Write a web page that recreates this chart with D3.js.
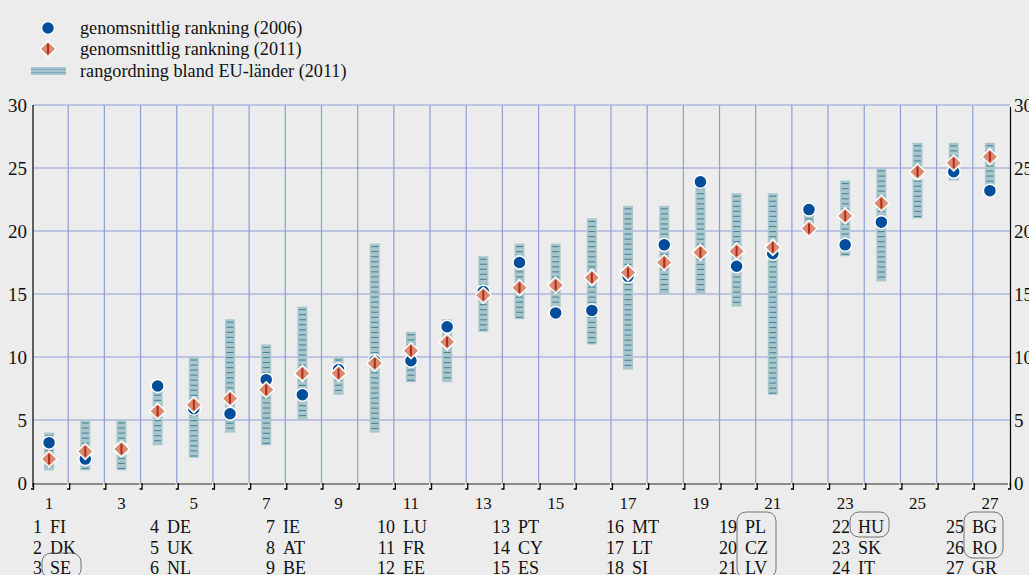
<!DOCTYPE html>
<html lang="sv">
<head>
    <meta charset="UTF-8">
    <title>Rankning</title>
    <script src="https://d3js.org/d3.v7.min.js"></script>
    <style>
        body, html {
            margin: 0px;
            background: #ececec;
        }
        svg text {
            fill: #111;
            font-family: "Liberation Serif", "DejaVu Serif", serif;
        }
    </style>
</head>
<body>
    <div id="chart"></div>
    <script>
        // ranks 1..27 and the country on each rank
        const ranks = d3.range(1, 28)
        const codes = ["FI", "DK", "SE", "DE", "UK", "NL", "IE", "AT", "BE", "LU", "FR", "EE", "PT", "CY",
            "ES", "MT", "LT", "SI", "PL", "CZ", "LV", "HU", "SK", "IT", "BG", "RO", "GR"]
        const avg2006 = [3.2, 1.9, 2.7, 7.7, 5.9, 5.5, 8.2, 7.0, 9.0, 9.7, 9.7, 12.4, 15.2, 17.5, 13.5,
            13.7, 16.4, 18.9, 23.9, 17.2, 18.2, 21.7, 18.9, 20.7, 24.6, 24.7, 23.2]
        const avg2011 = [1.9, 2.5, 2.7, 5.7, 6.2, 6.7, 7.4, 8.7, 8.7, 9.5, 10.5, 11.2, 14.9, 15.5, 15.7,
            16.3, 16.7, 17.5, 18.3, 18.4, 18.7, 20.2, 21.2, 22.2, 24.7, 25.4, 25.9]
        const rankLow = [1, 1, 1, 3, 2, 4, 3, 5, 7, 4, 8, 8, 12, 13, 13, 11, 9, 15, 15, 14, 7, 20, 18, 16, 21, 24, 23]
        const rankHigh = [4, 5, 5, 8, 10, 13, 11, 14, 10, 19, 12, 13, 18, 19, 19, 21, 22, 22, 24, 23, 23, 22, 24, 25, 27, 27, 27]
        const yTicks = [0, 5, 10, 15, 20, 25, 30]
        const xTicks = [1, 3, 5, 7, 9, 11, 13, 15, 17, 19, 21, 23, 25, 27]
        const legendLabels = ["genomsnittlig rankning (2006)", "genomsnittlig rankning (2011)", "rangordning bland EU-länder (2011)"]
        const circled = [[3], [19, 20, 21], [22], [25, 26]]

        const width = 1029, height = 575
        const serif = '"Liberation Serif", "DejaVu Serif", serif'
        const gridColor = "#8e9ed8"
        const barFill = "#aac6cd", stripeColor = "#468696"
        const blue = "#004d9c", diaFill = "#d98a6f", diaLine = "#b2291b"

        const svg = d3.select("#chart").append("svg")
            .attr("width", width).attr("height", height)
            .attr("font-family", serif)
            .style("display", "block")
            .style("background-color", "#ececec")

        const x = d3.scaleLinear().domain([0.5, 27.5]).range([31, 1008])
        const y = d3.scaleLinear().domain([0, 30]).range([483, 105])
        const fontSize = 17

        // grid
        const grid = svg.append("g")
        grid.selectAll(".hg").data(yTicks.filter(d => d > 0)).enter().append("line")
            .attr("x1", x(0.5) + 2).attr("x2", x(27.5) + 2)
            .attr("y1", d => y(d)).attr("y2", d => y(d))
            .style("stroke", gridColor).style("stroke-width", 1.2)
        grid.selectAll(".vg").data(d3.range(1.5, 27, 1)).enter().append("line")
            .attr("x1", d => x(d) + 1).attr("x2", d => x(d) + 1)
            .attr("y1", y(30)).attr("y2", y(0))
            .style("stroke", gridColor).style("stroke-width", 1.2)

        // axes
        svg.append("line").attr("x1", x(0.5) + 2).attr("x2", x(0.5) + 2)
            .attr("y1", y(30)).attr("y2", y(0) + 4)
            .style("stroke", "#000").style("stroke-width", 1.2)
        svg.append("line").attr("x1", x(27.5) + 2.5).attr("x2", x(27.5) + 2.5)
            .attr("y1", y(30) + 2).attr("y2", y(0) + 4)
            .style("stroke", "#000").style("stroke-width", 1.2)
        svg.append("line").attr("x1", x(0.5) + 2).attr("x2", x(27.5) + 2)
            .attr("y1", y(0) + 1).attr("y2", y(0) + 1)
            .style("stroke", "#8a8a8a").style("stroke-width", 2)
        const tickXs = d3.range(0.5, 28, 1)
        svg.selectAll(".tk").data(tickXs).enter().append("path")
            .attr("d", d => {
                const px = x(d) + 2.5
                return `M${px},${y(0)}V${y(0) + 6}H${px - 2.5}`
            })
            .style("fill", "none").style("stroke", "#000").style("stroke-width", 1.3)
        svg.selectAll(".tkw").data(tickXs).enter().append("line")
            .attr("x1", d => x(d) + 0.5).attr("x2", d => x(d) + 0.5)
            .attr("y1", y(0)).attr("y2", y(0) + 4)
            .style("stroke", "#fff").style("stroke-width", 1)

        svg.selectAll(".yl").data(yTicks).enter().append("text")
            .attr("x", 27).attr("y", d => y(d)).attr("dy", "0.35em")
            .attr("text-anchor", "end").style("font-size", "19px")
            .text(d => d)
        svg.selectAll(".yr").data(yTicks).enter().append("text")
            .attr("x", 1014).attr("y", d => y(d)).attr("dy", "0.35em")
            .style("font-size", "19px")
            .text(d => d)
        svg.selectAll(".xl").data(xTicks).enter().append("text")
            .attr("x", d => x(d)).attr("y", 509)
            .attr("text-anchor", "middle").style("font-size", fontSize + "px")
            .text(d => d)

        // range bars with stripes
        const barW = 10
        const bars = svg.append("g")
        ranks.forEach((r, i) => {
            const top = y(rankHigh[i]), bot = y(rankLow[i])
            bars.append("rect")
                .attr("x", x(r) - barW / 2).attr("y", top)
                .attr("width", barW).attr("height", bot - top)
                .style("fill", barFill)
            bars.selectAll(null).data(d3.range(top + 3, bot - 1, 5.05)).enter().append("line")
                .attr("x1", x(r) - barW / 2 + 1.5).attr("x2", x(r) + barW / 2 - 1.5)
                .attr("y1", d => d).attr("y2", d => d)
                .style("stroke", stripeColor).style("stroke-width", 1.1)
        })

        // 2006 circles
        svg.append("g").selectAll("circle").data(ranks).enter().append("circle")
            .attr("cx", d => x(d)).attr("cy", (d, i) => y(avg2006[i]))
            .attr("r", 6.5)
            .style("fill", blue).style("stroke", "#fff").style("stroke-width", 1.5)

        // 2011 diamonds
        function diamond(g, cx, cy) {
            g.append("path")
                .attr("d", `M${cx},${cy - 8}L${cx + 8},${cy}L${cx},${cy + 8}L${cx - 8},${cy}Z`)
                .style("fill", diaFill).style("stroke", "#fff").style("stroke-width", 1.5)
            g.append("line")
                .attr("x1", cx).attr("x2", cx).attr("y1", cy - 5).attr("y2", cy + 5)
                .style("stroke", diaLine).style("stroke-width", 2)
        }
        const dg = svg.append("g")
        ranks.forEach((r, i) => diamond(dg, x(r), y(avg2011[i])))

        // legend
        const lg = svg.append("g")
        const legY = [28, 49, 71]
        lg.append("circle").attr("cx", 48).attr("cy", legY[0]).attr("r", 6.5)
            .style("fill", blue).style("stroke", "#fff").style("stroke-width", 1.5)
        diamond(lg, 48, legY[1])
        lg.append("rect").attr("x", 31).attr("y", legY[2] - 4).attr("width", 35).attr("height", 8)
            .style("fill", barFill)
        lg.selectAll(".ll").data([-1.5, 1.5]).enter().append("line")
            .attr("x1", 31).attr("x2", 66)
            .attr("y1", d => legY[2] + d).attr("y2", d => legY[2] + d)
            .style("stroke", "#7aa9b5").style("stroke-width", 1)
        lg.selectAll("text").data(legendLabels).enter().append("text")
            .attr("x", 80).attr("y", (d, i) => legY[i]).attr("dy", "0.33em")
            .style("font-size", "18.2px")
            .text(d => d)

        // country list under the axis
        const colX = [50, 167, 283, 403, 518, 632, 745, 858, 972]
        const rowY = [533, 554, 574]
        const lab = svg.append("g").style("font-size", "18px")
        ranks.forEach((r, i) => {
            const col = Math.floor(i / 3), row = i % 3
            lab.append("text").attr("x", colX[col] - 8).attr("y", rowY[row])
                .attr("text-anchor", "end").text(r)
            lab.append("text").attr("x", colX[col]).attr("y", rowY[row]).text(codes[i])
        })
        circled.forEach(grp => {
            const i0 = grp[0] - 1, i1 = grp[grp.length - 1] - 1
            const col = Math.floor(i0 / 3)
            const top = rowY[i0 % 3] - 21
            const bottom = rowY[i1 % 3] + 4
            svg.append("rect")
                .attr("x", colX[col] - 8).attr("y", top)
                .attr("width", 39).attr("height", bottom - top)
                .attr("rx", 9)
                .style("fill", "none").style("stroke", "#555").style("stroke-width", 0.8)
        })
    </script>
</body>
</html>
